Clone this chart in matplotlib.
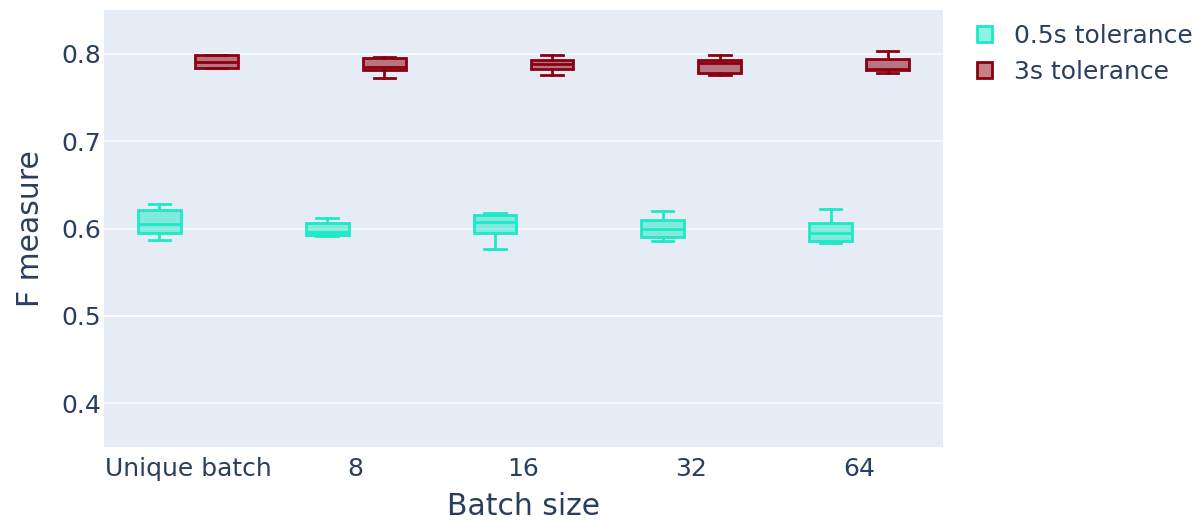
import numpy as np
import matplotlib as mpl
import matplotlib.pyplot as plt
from matplotlib.patches import Patch

# Font definitions
mpl.rcParams['font.family'] = ['DejaVu Sans']
fs = 18
txt = '#2a3f5f'

categories = ['Unique batch', '8', '16', '32', '64']
series = ['0.5s tolerance', '3s tolerance']
line_colors = ['#1de9c6', '#8b0010']

# box statistics: lower whisker, q1, median, q3, upper whisker
stats_05 = {
    'whislo': [0.587, 0.591, 0.576, 0.586, 0.583],
    'q1':     [0.595, 0.592, 0.595, 0.590, 0.586],
    'med':    [0.605, 0.596, 0.608, 0.600, 0.595],
    'q3':     [0.621, 0.606, 0.616, 0.610, 0.606],
    'whishi': [0.628, 0.612, 0.618, 0.620, 0.622],
}
stats_3 = {
    'whislo': [0.784, 0.772, 0.776, 0.776, 0.778],
    'q1':     [0.784, 0.781, 0.783, 0.778, 0.781],
    'med':    [0.791, 0.785, 0.788, 0.789, 0.783],
    'q3':     [0.798, 0.795, 0.793, 0.793, 0.794],
    'whishi': [0.799, 0.796, 0.798, 0.799, 0.803],
}


def to_bxp(st):
    keys = list(st.keys())
    return [{k: st[k][i] for k in keys} for i in range(len(st['med']))]


fig = plt.figure(figsize=(11.95, 5.22), dpi=100)
ax = fig.add_axes([104 / 1195, 75 / 522, 839 / 1195, 437 / 522])
ax.set_facecolor('#e5ecf6')

x = np.arange(len(categories))
offsets = [-0.17, 0.17]
width = 0.255
for stats, off, col in zip([stats_05, stats_3], offsets, line_colors):
    ax.bxp(
        to_bxp(stats),
        positions=x + off,
        widths=width,
        showfliers=False,
        patch_artist=True,
        boxprops=dict(facecolor=mpl.colors.to_rgba(col, 0.5), edgecolor=col, linewidth=2),
        medianprops=dict(color=col, linewidth=2),
        whiskerprops=dict(color=col, linewidth=2),
        capprops=dict(color=col, linewidth=2),
        capwidths=width * 0.5,
        zorder=3,
    )

ax.set_xlim(-0.5, len(categories) - 0.5)
ax.set_ylim(0.35, 0.85)
ax.set_xticks(x)
ax.set_xticklabels(categories)
ax.set_yticks([0.4, 0.5, 0.6, 0.7, 0.8])
ax.grid(axis='y', color='white', linewidth=1.2, zorder=0)
ax.set_axisbelow(True)
for s in ax.spines.values():
    s.set_visible(False)
ax.tick_params(axis='both', length=0, labelsize=fs, colors=txt)
ax.tick_params(axis='x', pad=7)
ax.tick_params(axis='y', pad=2)
ax.set_xlabel('Batch size', fontsize=21.5, color=txt, labelpad=8)
ax.set_ylabel('F measure', fontsize=21.5, color=txt, labelpad=12)

handles = [Patch(facecolor=mpl.colors.to_rgba(c, 0.5), edgecolor=c, linewidth=2) for c in line_colors]
fig.legend(handles, series, loc='upper left', bbox_to_anchor=(954 / 1195, 0.998),
           frameon=False, fontsize=fs, labelcolor=txt, handlelength=0.6, handleheight=0.6,
           handletextpad=0.9, labelspacing=0.5)

fig.savefig('out.png', dpi=100)
